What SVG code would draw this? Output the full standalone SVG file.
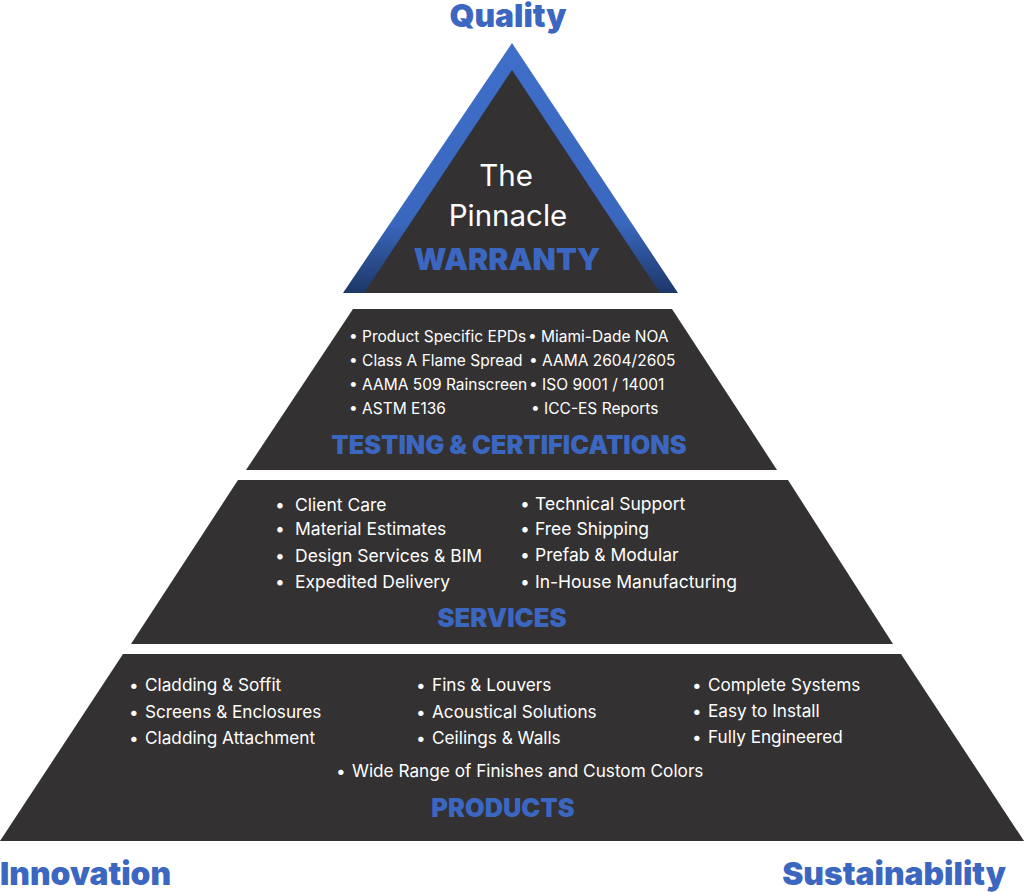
<svg xmlns="http://www.w3.org/2000/svg" width="1024" height="892" viewBox="0 0 1024 892">
<defs>
<linearGradient id="rim" x1="0" y1="43" x2="0" y2="293" gradientUnits="userSpaceOnUse">
<stop offset="0" stop-color="#3f6fca"/>
<stop offset="0.72" stop-color="#3a67be"/>
<stop offset="1" stop-color="#1d3768"/>
</linearGradient>
<style>
.tier{fill:#333132}
.head{font-family:Inter,"Noto Sans",sans-serif;font-weight:900;fill:#3c67c1;text-anchor:middle}
.item{font-family:Inter,"Noto Sans",sans-serif;font-weight:400;fill:#ffffff}
.corner{font-family:Inter,"Noto Sans",sans-serif;font-weight:900;fill:#3c67c1;font-size:31.8px}
</style>
</defs>
<rect width="1024" height="892" fill="#ffffff"/>

<g id="pinnacle">
<polygon points="512,43 678,293 343,293" fill="url(#rim)"/>
<polygon class="tier" points="512,70 660,293 364,293"/>
<text class="item" x="506" y="186" font-size="29.5" text-anchor="middle">The</text>
<text class="item" x="508" y="226" font-size="29.5" text-anchor="middle">Pinnacle</text>
<text class="head" x="507" y="270" font-size="30.3">WARRANTY</text>
</g>

<g id="testing">
<polygon class="tier" points="353,309 672,309 777,470 246,470"/>
<g class="item" font-size="15.5">
<text x="349" y="342">• Product Specific EPDs</text>
<text x="349" y="366">• Class A Flame Spread</text>
<text x="349" y="390">• AAMA 509 Rainscreen</text>
<text x="349" y="414">• ASTM E136</text>
<text x="528" y="342">• Miami-Dade NOA</text>
<text x="529" y="366">• AAMA 2604/2605</text>
<text x="529" y="390">• ISO 9001 / 14001</text>
<text x="531" y="414">• ICC-ES Reports</text>
</g>
<text class="head" x="509" y="454" font-size="25.3">TESTING &amp; CERTIFICATIONS</text>
</g>

<g id="services">
<polygon class="tier" points="238,480 788,480 893,644 131,644"/>
<g class="item" font-size="17.5">
<text x="275" y="511">•</text><text x="295" y="511">Client Care</text>
<text x="275" y="535">•</text><text x="295" y="535">Material Estimates</text>
<text x="275" y="562">•</text><text x="295" y="562">Design Services &amp; BIM</text>
<text x="275" y="588">•</text><text x="295" y="588">Expedited Delivery</text>
<text x="520" y="510">•</text><text x="535" y="510">Technical Support</text>
<text x="520" y="535">•</text><text x="535" y="535">Free Shipping</text>
<text x="520" y="561">•</text><text x="535" y="561">Prefab &amp; Modular</text>
<text x="520" y="588">•</text><text x="535" y="588">In-House Manufacturing</text>
</g>
<text class="head" x="502" y="627" font-size="25.6">SERVICES</text>
</g>

<g id="products">
<polygon class="tier" points="123,654 901,654 1024,841 0,841"/>
<g class="item" font-size="17.2">
<text x="129" y="691">•</text><text x="145" y="691">Cladding &amp; Soffit</text>
<text x="129" y="718">•</text><text x="145" y="718">Screens &amp; Enclosures</text>
<text x="129" y="744">•</text><text x="145" y="744">Cladding Attachment</text>
<text x="416" y="691">•</text><text x="432" y="691">Fins &amp; Louvers</text>
<text x="416" y="718">•</text><text x="432" y="718">Acoustical Solutions</text>
<text x="416" y="744">•</text><text x="432" y="744">Ceilings &amp; Walls</text>
<text x="692" y="691">•</text><text x="708" y="691">Complete Systems</text>
<text x="692" y="717">•</text><text x="708" y="717">Easy to Install</text>
<text x="692" y="743">•</text><text x="708" y="743">Fully Engineered</text>
<text x="336" y="777">•</text><text x="352" y="777">Wide Range of Finishes and Custom Colors</text>
</g>
<text class="head" x="503" y="817" font-size="25.4">PRODUCTS</text>
</g>

<g id="labels">
<text class="corner" x="508" y="26.5" text-anchor="middle">Quality</text>
<text class="corner" x="0" y="885">Innovation</text>
<text class="corner" x="1006" y="885" text-anchor="end">Sustainability</text>
</g>

<g id="connectors"></g>
</svg>
